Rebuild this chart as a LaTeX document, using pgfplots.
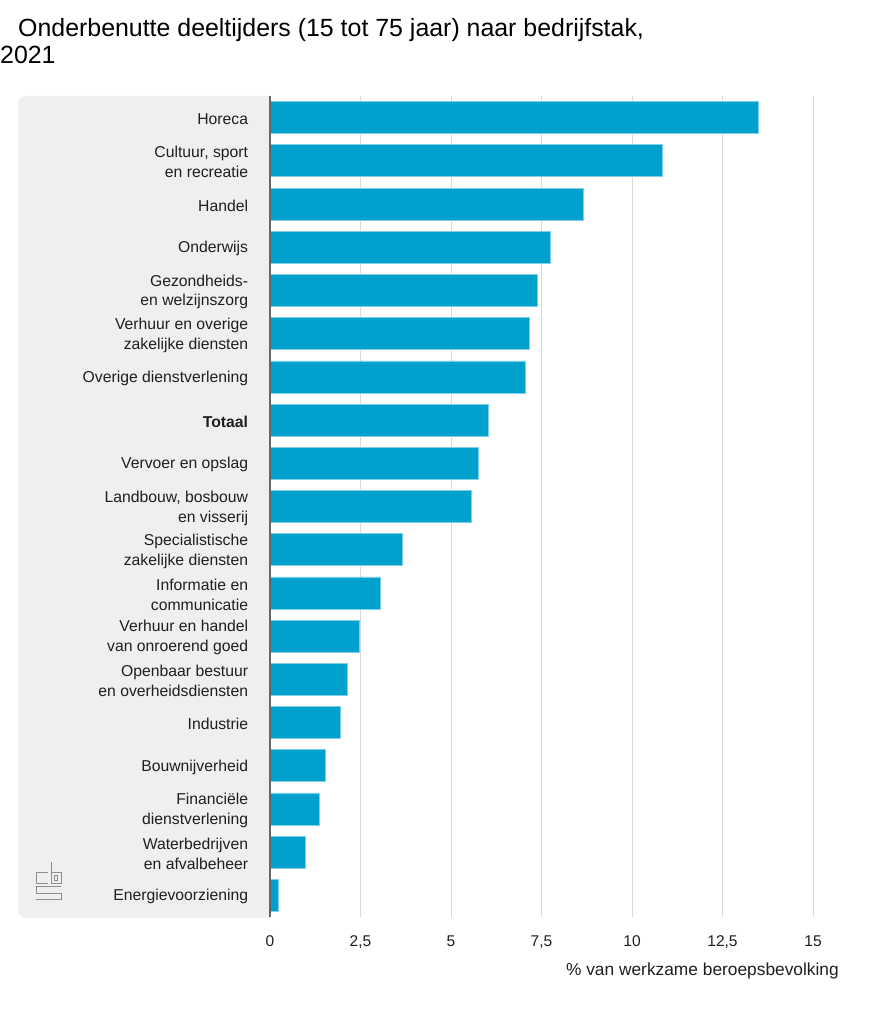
\documentclass[border=0pt]{standalone}
\usepackage{pgfplots}
\pgfplotsset{compat=1.18}
\usepackage{fontspec}
\setmainfont{Liberation Sans}
\definecolor{barblue}{HTML}{00A1CD}
\definecolor{baredge}{HTML}{7FD0E6}
\definecolor{panel}{HTML}{EFEFEF}
\definecolor{gridc}{HTML}{D9D9D9}
\definecolor{axisc}{HTML}{666666}
\definecolor{txt}{HTML}{1F1F1F}
\definecolor{logoc}{HTML}{8E8E8E}
\begin{document}
\begin{tikzpicture}[x=1bp,y=1bp]
\useasboundingbox (0,0) rectangle (878,1024);
% grey panel behind the category labels
\fill[panel] (270,106) [rounded corners=8bp] -- (18,106) -- (18,928) [sharp corners] -- (270,928) -- cycle;
% CBS logo (decoration)
\begin{scope}[draw=logoc, double=panel, double distance=1.3bp, line width=1bp]
\draw (48,151) -- (36,151) -- (36,140) -- (48,140);
\draw (51,162) -- (51,140) -- (61,140) -- (61,151) -- (51,151);
\draw (54.3,148) rectangle (57.7,143.5);
\draw (61,137) -- (36,137) -- (36,130.5) -- (61,130.5) -- (61,124) -- (36,124);
\end{scope}
% title
\node[anchor=base west, inner sep=0pt, font=\fontsize{25}{30}\selectfont, text=black] at (18,987.5) {Onderbenutte deeltijders (15 tot 75 jaar) naar bedrijfstak,};
\node[anchor=base west, inner sep=0pt, font=\fontsize{25}{30}\selectfont, text=black] at (0,960) {2021};
\begin{axis}[
  at={(270bp,107bp)}, anchor=south west,
  scale only axis, width=543bp, height=821bp,
  xmin=0, xmax=15, ymin=-0.5, ymax=18.5,
  xbar, bar width=32bp,
  axis line style={draw=none},
  major tick length=0pt,
  xmajorgrids, grid style={gridc, line width=1bp},
  xtick={0,2.5,5,7.5,10,12.5,15},
  xticklabels={0,{2,5},5,{7,5},10,{12,5},15},
  xticklabel style={anchor=base, inner sep=0pt, yshift=-29.5bp, font=\fontsize{15.6}{18}\selectfont, text=txt},
  ytick={0,...,18},
  yticklabels={Energievoorziening,{Waterbedrijven\\en afvalbeheer},{Financiële\\dienstverlening},Bouwnijverheid,Industrie,{Openbaar bestuur\\en overheidsdiensten},{Verhuur en handel\\van onroerend goed},{Informatie en\\communicatie},{Specialistische\\zakelijke diensten},{Landbouw, bosbouw\\en visserij},Vervoer en opslag,\textbf{Totaal},Overige dienstverlening,{Verhuur en overige\\zakelijke diensten},{Gezondheids-\\en welzijnszorg},Onderwijs,Handel,{Cultuur, sport\\en recreatie},Horeca},
  yticklabel style={align=right, anchor=east, inner sep=0pt, xshift=-21.7bp, yshift=-1.5bp, font=\fontsize{15.8}{20}\selectfont, text=txt},
  clip=false,
]
\addplot[fill=barblue, draw=baredge, line width=0.6bp] coordinates {
(0.22,0) (0.97,1) (1.37,2) (1.53,3) (1.94,4) (2.14,5) (2.48,6) (3.05,7) (3.65,8) (5.55,9)
(5.75,10) (6.03,11) (7.04,12) (7.17,13) (7.37,14) (7.75,15) (8.65,16) (10.85,17) (13.5,18)};
\draw[axisc, line width=2.5bp] (axis cs:0,-0.5) -- (axis cs:0,18.5);
\end{axis}
\node[anchor=base east, inner sep=0pt, font=\fontsize{17.4}{20}\selectfont, text=txt] at (839,48) {\% van werkzame beroepsbevolking};
\end{tikzpicture}
\end{document}
